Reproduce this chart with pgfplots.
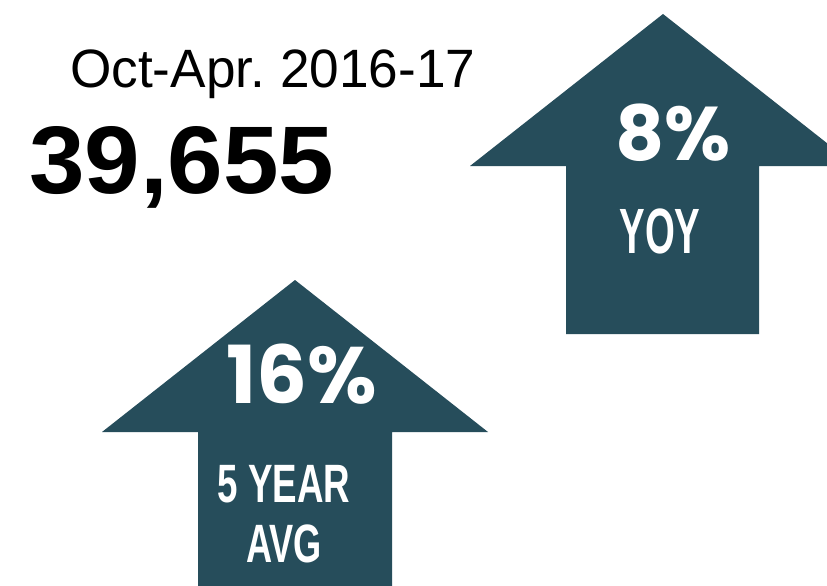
\documentclass[border=0pt]{standalone}
\usepackage{pgfplots}
\pgfplotsset{compat=1.18}
\usepackage{fontspec}
\setmainfont{Liberation Sans}
\newfontfamily\geo{Poppins}
\definecolor{arrowc}{HTML}{264D5B}
\frenchspacing
\begin{document}
\begin{tikzpicture}
\begin{axis}[
  width=827pt, height=586pt, scale only axis,
  xmin=0, xmax=827, ymin=0, ymax=586, y dir=reverse,
  hide axis, clip=true,
]
\addplot[draw=none, fill=white] coordinates {(0,0) (827,0) (827,586) (0,586)} -- cycle;
\addplot[draw=none, fill=arrowc] coordinates {(566,334) (566,166) (470,166) (663,14) (856,166) (759,166) (759,334)} -- cycle;
\addplot[draw=none, fill=arrowc] coordinates {(198,590) (198,432) (102,432) (295,280) (488,432) (392,432) (392,590)} -- cycle;
\node[anchor=base west, inner sep=0pt] at (axis cs:70,87) {\scalebox{0.985}[1]{\fontsize{54}{60}\selectfont Oct-Apr. 2016-17}};
\node[anchor=base west, inner sep=0pt] at (axis cs:29,193) {\scalebox{1.04}[1]{\fontsize{96}{100}\selectfont\bfseries 39,655}};
\node[anchor=base, inner sep=0pt, white] at (axis cs:673,160) {\geo\fontsize{76}{80}\selectfont\bfseries 8\%};
\node[anchor=base, inner sep=0pt, white] at (axis cs:302,403) {\geo\fontsize{80}{82}\selectfont\bfseries 16\%};
\node[anchor=base, inner sep=0pt, white] at (axis cs:660,253) {\scalebox{0.6}[1]{\fontsize{64}{66}\selectfont\bfseries YOY}};
\node[anchor=base, inner sep=0pt, white] at (axis cs:284,502) {\scalebox{0.68}[1]{\fontsize{54}{56}\selectfont\bfseries 5 YEAR}};
\node[anchor=base, inner sep=0pt, white] at (axis cs:284,562) {\scalebox{0.67}[1]{\fontsize{54}{56}\selectfont\bfseries AVG}};
\end{axis}
\end{tikzpicture}
\end{document}
